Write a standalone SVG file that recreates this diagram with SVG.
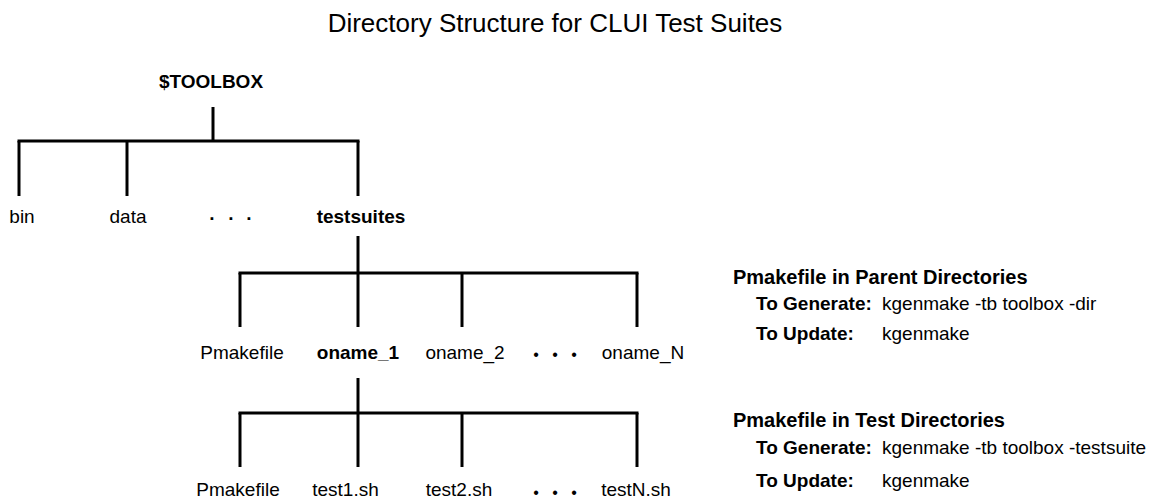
<svg xmlns="http://www.w3.org/2000/svg" width="1156" height="502" viewBox="0 0 1156 502">
<style>
  text { font-family: "Liberation Sans", Arial, sans-serif; fill: #000; }
  .title { font-size: 26px; text-anchor: middle; }
  .lbl { font-size: 19px; text-anchor: middle; }
  .b { font-weight: bold; }
  .hdr { font-size: 20px; font-weight: bold; }
  .key { font-size: 19px; font-weight: bold; }
  .val { font-size: 19px; }
  .dots { font-size: 16px; text-anchor: middle; }
  .conn line { stroke: #000; stroke-width: 3; stroke-linecap: butt; }
</style>
<rect width="1156" height="502" fill="#fff"/>
<text class="title" x="555" y="32">Directory Structure for CLUI Test Suites</text>

<g id="connectors" class="conn">
  <line x1="213" y1="107" x2="213" y2="141"/>
  <line x1="17.5" y1="141" x2="359.5" y2="141"/>
  <line x1="19" y1="141" x2="19" y2="196"/>
  <line x1="127" y1="141" x2="127" y2="196"/>
  <line x1="358" y1="141" x2="358" y2="196"/>

  <line x1="358" y1="236" x2="358" y2="273"/>
  <line x1="238.5" y1="273" x2="638.5" y2="273"/>
  <line x1="240" y1="273" x2="240" y2="327"/>
  <line x1="358" y1="273" x2="358" y2="327"/>
  <line x1="462" y1="273" x2="462" y2="327"/>
  <line x1="637" y1="273" x2="637" y2="327"/>

  <line x1="358" y1="378" x2="358" y2="413"/>
  <line x1="238.5" y1="413" x2="638.5" y2="413"/>
  <line x1="240" y1="413" x2="240" y2="467"/>
  <line x1="358" y1="413" x2="358" y2="467"/>
  <line x1="462" y1="413" x2="462" y2="467"/>
  <line x1="637" y1="413" x2="637" y2="467"/>
</g>

<g id="toolbox"><text class="lbl b" x="211" y="88">$TOOLBOX</text></g>
<g id="bin"><text class="lbl" x="22" y="223">bin</text></g>
<g id="data"><text class="lbl" x="128" y="223">data</text></g>
<g id="dots1"><text class="lbl b" x="212.5 231.5 249.5" y="225">···</text></g>
<g id="testsuites"><text class="lbl b" x="361" y="223">testsuites</text></g>

<g id="pmakefile1"><text class="lbl" x="242" y="359">Pmakefile</text></g>
<g id="oname_1"><text class="lbl b" x="358" y="359">oname_1</text></g>
<g id="oname_2"><text class="lbl" x="465" y="359">oname_2</text></g>
<g id="dots2"><text class="dots" x="536 555 574" y="360">•••</text></g>
<g id="oname_N"><text class="lbl" x="643" y="359">oname_N</text></g>

<g id="pmakefile2"><text class="lbl" x="238" y="496">Pmakefile</text></g>
<g id="test1"><text class="lbl" x="345.5" y="496">test1.sh</text></g>
<g id="test2"><text class="lbl" x="459" y="496">test2.sh</text></g>
<g id="dots3"><text class="dots" x="536 555 574" y="498">•••</text></g>
<g id="testN"><text class="lbl" x="636" y="496">testN.sh</text></g>

<g id="legend-parent">
  <text class="hdr" x="733" y="284">Pmakefile in Parent Directories</text>
  <text class="key" x="756" y="310">To Generate:</text>
  <text class="val" x="882" y="310">kgenmake -tb toolbox -dir</text>
  <text class="key" x="756" y="340">To Update:</text>
  <text class="val" x="882" y="340">kgenmake</text>
</g>
<g id="legend-test">
  <text class="hdr" x="733" y="427">Pmakefile in Test Directories</text>
  <text class="key" x="756" y="454">To Generate:</text>
  <text class="val" x="882" y="454">kgenmake -tb toolbox -testsuite</text>
  <text class="key" x="756" y="487">To Update:</text>
  <text class="val" x="882" y="487">kgenmake</text>
</g>
</svg>
